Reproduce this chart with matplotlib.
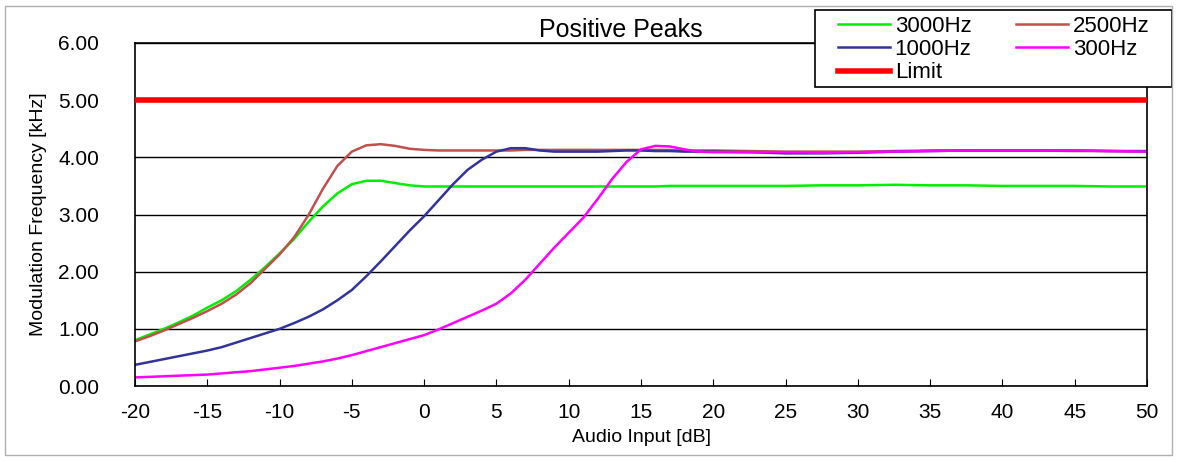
import numpy as np
import matplotlib
matplotlib.use('Agg')
import matplotlib.pyplot as plt
from matplotlib.patches import Rectangle

plt.rcParams['font.family'] = ['Liberation Sans', 'DejaVu Sans']
plt.rcParams['axes.unicode_minus'] = False

# audio input level [dB]
x_db = [-20, -19, -18, -17, -16, -15, -14, -13, -12, -11, -10, -9, -8, -7, -6, -5,
        -4, -3, -2, -1, 0, 1, 2, 3, 4, 5, 6, 7, 8, 9, 10, 11, 12, 13, 14, 15, 16,
        17, 18, 19, 20, 22.5, 25, 27.5, 30, 32.5, 35, 37.5, 40, 42.5, 45, 47.5, 50]

# modulation frequency [kHz] per tone
f3000 = [0.80, 0.90, 1.00, 1.11, 1.23, 1.37, 1.50, 1.66, 1.86, 2.08, 2.32, 2.57,
         2.87, 3.14, 3.37, 3.53, 3.59, 3.59, 3.55, 3.51, 3.49, 3.49, 3.49, 3.49,
         3.49, 3.49, 3.49, 3.49, 3.49, 3.49, 3.49, 3.49, 3.49, 3.49, 3.49, 3.49,
         3.49, 3.50, 3.50, 3.50, 3.50, 3.50, 3.50, 3.51, 3.51, 3.52, 3.51, 3.51,
         3.50, 3.50, 3.50, 3.49, 3.49]
f2500 = [0.78, 0.87, 0.97, 1.08, 1.19, 1.31, 1.44, 1.60, 1.80, 2.05, 2.30, 2.60,
         2.99, 3.45, 3.85, 4.10, 4.21, 4.23, 4.20, 4.15, 4.13, 4.12, 4.12, 4.12,
         4.12, 4.12, 4.12, 4.13, 4.13, 4.13, 4.13, 4.13, 4.13, 4.13, 4.13, 4.13,
         4.13, 4.13, 4.12, 4.12, 4.12, 4.11, 4.10, 4.10, 4.10, 4.11, 4.12, 4.12,
         4.12, 4.12, 4.11, 4.11, 4.10]
f1000 = [0.37, 0.42, 0.47, 0.52, 0.57, 0.62, 0.68, 0.76, 0.84, 0.92, 1.00, 1.10,
         1.21, 1.34, 1.50, 1.68, 1.92, 2.18, 2.45, 2.72, 2.97, 3.25, 3.53, 3.78,
         3.96, 4.10, 4.16, 4.16, 4.12, 4.10, 4.10, 4.10, 4.10, 4.11, 4.12, 4.12,
         4.11, 4.11, 4.10, 4.10, 4.10, 4.09, 4.07, 4.07, 4.08, 4.10, 4.11, 4.12,
         4.12, 4.12, 4.12, 4.11, 4.11]
f300 = [0.15, 0.16, 0.17, 0.18, 0.19, 0.20, 0.22, 0.24, 0.26, 0.29, 0.32, 0.35,
        0.39, 0.43, 0.48, 0.54, 0.61, 0.68, 0.75, 0.82, 0.89, 0.99, 1.10, 1.21,
        1.32, 1.44, 1.62, 1.86, 2.14, 2.42, 2.68, 2.94, 3.27, 3.62, 3.92, 4.14,
        4.20, 4.19, 4.14, 4.10, 4.09, 4.09, 4.09, 4.08, 4.09, 4.10, 4.11, 4.12,
        4.12, 4.12, 4.12, 4.11, 4.10]
limit = 5.0

W, H = 1177, 462
fig = plt.figure(figsize=(W / 100, H / 100), dpi=100)
ax = fig.add_axes([135 / W, 1 - 386 / H, (1147 - 135) / W, (386 - 43) / H])

# outer frame of the picture
fig.patches.append(Rectangle((5 / W, 7 / H), 1167 / W, 449 / H, transform=fig.transFigure,
                             fill=False, edgecolor='#b0b0b0', linewidth=1))

l3000, = ax.plot(x_db, f3000, color='#00ee00', lw=1.8, label='3000Hz')
l2500, = ax.plot(x_db, f2500, color='#c0504d', lw=1.8, label='2500Hz')
l1000, = ax.plot(x_db, f1000, color='#333399', lw=1.8, label='1000Hz')
l300, = ax.plot(x_db, f300, color='#ff00ff', lw=1.8, label='300Hz')
llim = ax.axhline(limit, color='#ff0000', lw=4, label='Limit', zorder=3)

ax.set_xlim(-20, 50)
ax.set_ylim(0, 6)
ax.set_xticks(np.arange(-20, 51, 5))
ax.set_yticks(np.arange(0, 6.1, 1))
ax.yaxis.set_major_formatter(matplotlib.ticker.FormatStrFormatter('%.2f'))
ax.grid(axis='y', color='black', lw=1)
ax.set_axisbelow(True)
ax.tick_params(axis='x', direction='in', length=5, labelsize=15, pad=12)
ax.tick_params(axis='y', length=0, labelsize=15, pad=26)
for s in ax.spines.values():
    s.set_linewidth(1.2)

ax.set_title('Positive Peaks', fontsize=18, pad=4, x=0.48)
ax.set_xlabel('Audio Input [dB]', fontsize=14, labelpad=5)
ax.set_ylabel('Modulation Frequency [kHz]', fontsize=14, labelpad=8)

# legend box drawn separately (wider than the default padding)
ax.add_patch(Rectangle((815 / W, 1 - 87 / H), 357 / W, 77 / H, transform=fig.transFigure,
                       facecolor='white', edgecolor='black', lw=1.2, clip_on=False, zorder=4.5))
leg = ax.legend([l3000, l1000, llim, l2500, l300],
                ['3000Hz', '1000Hz', 'Limit', '2500Hz', '300Hz'],
                ncol=2, loc='upper left', bbox_to_anchor=(838 / W, 1 - 16 / H),
                bbox_transform=fig.transFigure, fontsize=16, frameon=False,
                borderaxespad=0, borderpad=0,
                handlelength=2.35, handletextpad=0.2, columnspacing=2.0,
                labelspacing=0.1)
leg.set_zorder(5)

fig.savefig('out.png', dpi=100)
